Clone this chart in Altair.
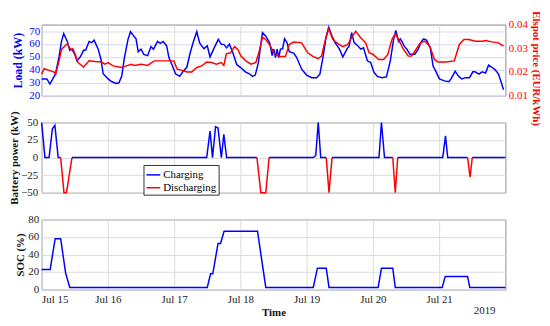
import altair as alt
import pandas as pd

# ---------------- data (hours after 2019-07-15 00:00) ----------------
load_h = [0, 1.9, 3, 5, 6.3, 7.2, 8, 9.3, 10.2, 11, 12, 12.8, 14, 15.2, 16, 17.2, 18.2, 19, 20.5, 21.5,
          22.3, 24.1, 25.3, 27, 28, 29, 30, 31.3, 32.2, 33.4, 34.2, 35, 36, 37, 38.4, 39.6, 40.5, 42, 43, 44,
          45.3, 46.1, 47.3, 48.5, 50, 51.2, 52.6, 53.8, 55, 56.2, 57.2, 58, 58.8, 60, 61, 62.5, 64, 65.1, 66, 67,
          68, 69.3, 70.7, 72, 73.8, 75.2, 76.4, 77.4, 78.5, 80, 81.2, 82.6, 83.5, 84.1, 84.7, 85.3, 85.9, 86.5, 87.3, 88,
          88.9, 89.7, 91.3, 92.4, 94.2, 96, 97.8, 99.6, 100.8, 102, 103.1, 104, 105.2, 106.3, 107.9, 109.1, 110.6, 111.4, 112.3, 113.2,
          114.6, 115.6, 116.6, 118, 119.2, 120.4, 121.6, 123.3, 124.9, 126.3, 127.5, 128.3, 129.3, 129.9, 130.5, 131.3, 132.3, 133.4, 135.2, 136.4,
          137.6, 138.4, 139.4, 140.8, 141.8, 142.9, 144.1, 145.9, 147.5, 148.3, 149.8, 151, 152.2, 153.6, 155, 156.2, 157, 158.4, 159.6, 160.8,
          161.9, 163.1, 164.3, 165.5, 166.7, 167.3]
load_kw = [33, 33, 29, 36.7, 50, 62, 68, 62, 55, 56, 52, 47, 50, 55, 55.5, 62, 61, 63, 56, 48,
           37, 33, 31, 29.5, 30, 35, 49.5, 63.6, 69.5, 66, 64, 54, 56, 52, 51, 58, 56, 62, 60.5, 62,
           58.5, 49.5, 43.6, 37, 35, 38.7, 42, 53, 62, 69.5, 61, 58.5, 56.4, 58.5, 50, 57, 63.6, 59.7, 59.7, 57,
           60, 53, 44, 42, 38.5, 37, 35, 36, 45.6, 68.7, 66, 61, 51, 56, 49.5, 56, 49.5, 56, 56.4, 64,
           61, 54, 53, 49.5, 40.5, 36, 34, 34, 36.7, 50.8, 66, 73, 66, 61, 56, 50, 56, 58.5, 68.7, 61,
           58.5, 56, 57, 47, 45.6, 38, 35, 34, 34.6, 47, 63.6, 70.5, 62, 64, 62, 58.5, 56, 52, 52, 56,
           62, 64, 63, 57, 43, 38.5, 33, 31.5, 30.8, 33, 39, 35, 33, 34, 34, 38.5, 38.5, 36.7, 38.5, 37.5,
           43.6, 42, 40, 36.7, 29, 24.6]

price_h = [0, 0.95, 2.7, 4.5, 5.1, 6.3, 7.2, 8.7, 9.3, 10.5, 11.3, 12.2, 13.2, 15.2, 17.2, 19.4, 21.7, 22.9, 24.1, 25.9,
           28.9, 30.7, 32.4, 33.6, 36, 38.4, 40.8, 46.7, 47.9, 49.1, 50.9, 52.6, 54.4, 56.2, 58, 59.8, 61.6, 63.3, 65.1, 66,
           66.9, 68.4, 69.9, 71.1, 72.2, 74, 75.8, 77.6, 79, 80, 81.2, 82.9, 84.1, 85.9, 88.3, 89.7, 91.3, 94.2, 96.4, 98.4,
           100.2, 101.4, 102.8, 104, 105.5, 107.3, 109.1, 110.9, 112.6, 113.8, 115.6, 117.4, 118.6, 120.1, 122.1, 123.9, 125.4, 126.9, 128.1, 129.6,
           131.1, 132.8, 134, 135.6, 137.2, 138.8, 140.6, 142.3, 143.5, 146.5, 149.5, 151.3, 153, 154.8, 157.2, 159.6, 160.8, 163.1, 165.5, 167.3]
price_eur = [0.0191, 0.0214, 0.0207, 0.0200, 0.0191, 0.0247, 0.0295, 0.0313, 0.0319, 0.0295, 0.0298, 0.0274, 0.0240, 0.0221, 0.0247, 0.0244, 0.0242, 0.0233, 0.0240, 0.0226,
             0.0219, 0.0226, 0.0233, 0.0228, 0.0233, 0.0228, 0.0247, 0.0247, 0.0247, 0.0212, 0.0207, 0.0200, 0.0200, 0.0219, 0.0226, 0.0242, 0.0240, 0.0233, 0.0240, 0.0228,
             0.0277, 0.0281, 0.0307, 0.0295, 0.0267, 0.0247, 0.0233, 0.0240, 0.0295, 0.0347, 0.0337, 0.0309, 0.0281, 0.0265, 0.0265, 0.0316, 0.0326, 0.0323, 0.0281, 0.0265,
             0.0256, 0.0267, 0.0337, 0.0382, 0.0337, 0.0320, 0.0307, 0.0316, 0.0351, 0.0372, 0.0344, 0.0323, 0.0281, 0.0274, 0.0253, 0.0253, 0.0274, 0.0337, 0.0361, 0.0330,
             0.0295, 0.0267, 0.0267, 0.0295, 0.0323, 0.0330, 0.0309, 0.0253, 0.0242, 0.0242, 0.0247, 0.0316, 0.0337, 0.0337, 0.0330, 0.0330, 0.0333, 0.0327, 0.0323, 0.0309]

bp_h = [0, 1.2, 2.7, 3.9, 4.8, 6.0, 6.9, 8.1, 9.0, 11.0, 59.8, 61.0, 61.9, 63.0, 63.9, 65.1, 66.0, 67.0,
        78.0, 79.4, 81.2, 82.4, 98.4, 99.3, 100.2, 101.1, 103.1, 104.1, 105.2, 122.2, 123.1, 124.2, 127.2, 128.1, 129.0,
        145.3, 146.3, 147.1, 154.3, 155.2, 156.0, 168]
bp_kw = [50, 0, 0, 41, 46, 0, 0, -50, -50, 0, 0, 37.6, 0, 44, 42, 0, 33, 0,
         0, -50, -50, 0, 0, 3, 50, 0, 0, -50, 0, 0, 50, 0, 0, -50, 0,
         0, 31, 0, 0, -28, 0, 0]

soc_h = [0, 3.1, 4.9, 6.9, 8.7, 10.2, 60, 61.2, 62, 63.9, 64.8, 66.1, 78.2, 81.2, 98.4, 99.9, 103.1, 104.1,
         121.9, 123.1, 127.2, 128.1, 145.1, 146.2, 154.3, 155.1, 168]
soc_pct = [23, 23, 58, 58, 18.8, 2.5, 2.5, 18, 18, 52.6, 52.6, 66.5, 66.5, 2.5, 2.5, 24.4, 24.4, 2.5,
           2.5, 24.4, 24.4, 2.5, 2.5, 15, 15, 2.5, 2.5]

day_ticks = [15, 16, 17, 18, 19, 20, 21]
load_ticks = [20, 30, 40, 50, 60, 70]
price_ticks = [0.01, 0.02, 0.03, 0.04]
bp_ticks = [-50, -25, 0, 25, 50]
soc_ticks = [0, 20, 40, 60, 80]

# ---------------- helpers ----------------
base = pd.Timestamp("2019-07-15")


def ts(hours):
    return [(base + pd.Timedelta(hours=h)).strftime("%Y-%m-%dT%H:%M:%S") for h in hours]


load_df = pd.DataFrame({"t": ts(load_h), "v": load_kw})
price_df = pd.DataFrame({"t": ts(price_h), "v": price_eur})
soc_df = pd.DataFrame({"t": ts(soc_h), "v": soc_pct})

rows = []
run = 0
prev = None
idx = 0
for i in range(len(bp_h) - 1):
    kind = "Discharging" if min(bp_kw[i], bp_kw[i + 1]) < 0 else "Charging"
    if kind != prev:
        run += 1
        prev = kind
        rows.append({"t": bp_h[i], "v": bp_kw[i], "type": kind, "seg": run, "i": idx})
        idx += 1
    rows.append({"t": bp_h[i + 1], "v": bp_kw[i + 1], "type": kind, "seg": run, "i": idx})
    idx += 1
bp_df = pd.DataFrame(rows)
bp_df["t"] = ts(bp_df["t"].tolist())

BLUE = "#0000ff"
RED = "#ff0000"
FONT = "Liberation Serif"
W = 469
H1, H2, H3 = 72, 71, 71
GAP = 27

xdomain = [alt.DateTime(year=2019, month=7, date=15), alt.DateTime(year=2019, month=7, date=22)]
xvals = [alt.DateTime(year=2019, month=7, date=d) for d in day_ticks]
xscale = alt.Scale(domain=xdomain)


def x_hidden():
    return alt.X("t:T", scale=xscale,
                 axis=alt.Axis(values=xvals, labels=False, ticks=False, domain=False, title=None,
                               grid=True, gridColor="#dcdcdc"))


# ---------------- panel 1 ----------------
load_line = alt.Chart(load_df).mark_line(color=BLUE, strokeWidth=1.5).encode(
    x=x_hidden(),
    y=alt.Y("v:Q", scale=alt.Scale(domain=[20, 75], nice=False, zero=False),
            axis=alt.Axis(values=load_ticks, title="Load (kW)", titleColor=BLUE, labelColor=BLUE,
                          gridColor="#d6d6f5", ticks=False, domain=False, labelPadding=2,
                          titlePadding=4, titleFontSize=12)),
)
price_line = alt.Chart(price_df).mark_line(color=RED, strokeWidth=1.5).encode(
    x=alt.X("t:T", scale=xscale),
    y=alt.Y("v:Q", scale=alt.Scale(domain=[0.01, 0.04], nice=False, zero=False),
            axis=alt.Axis(orient="right", values=price_ticks, format=".2f", title="Elspot price (EUR/kWh)",
                          titleColor=RED, labelColor=RED, grid=False, ticks=False, domain=False,
                          labelPadding=3, titlePadding=3, titleY=44)),
)
p1 = alt.layer(load_line, price_line).resolve_scale(y="independent").properties(width=W, height=H1)

# ---------------- panel 2 ----------------
p2 = alt.Chart(bp_df).mark_line(strokeWidth=1.5).encode(
    x=x_hidden(),
    y=alt.Y("v:Q", scale=alt.Scale(domain=[-50, 50], nice=False),
            axis=alt.Axis(values=bp_ticks, title="Battery power (kW)", ticks=False, domain=False,
                          labelPadding=4, titlePadding=1, gridColor="#dcdcdc")),
    color=alt.Color("type:N", scale=alt.Scale(domain=["Charging", "Discharging"], range=[BLUE, RED]),
                    legend=alt.Legend(orient="none", legendX=103, legendY=H1 + GAP + 43, title=None,
                                      symbolType="stroke", symbolStrokeWidth=1.5, symbolSize=196,
                                      fillColor="white", strokeColor="#333333", padding=2,
                                      labelFont=FONT, labelFontSize=11, labelOffset=2, rowPadding=0)),
    detail="seg:N",
    order="i:Q",
).properties(width=W, height=H2)

# ---------------- panel 3 ----------------
soc_line = alt.Chart(soc_df).mark_line(color=BLUE, strokeWidth=1.5).encode(
    x=alt.X("t:T", scale=xscale,
            axis=alt.Axis(values=xvals, format="%b %d", title="Time", ticks=False, domain=False,
                          grid=True, gridColor="#dcdcdc", labelPadding=4, titlePadding=2)),
    y=alt.Y("v:Q", scale=alt.Scale(domain=[0, 80], nice=False),
            axis=alt.Axis(values=soc_ticks, title="SOC (%)", ticks=False, domain=False,
                          labelPadding=3, titlePadding=2, gridColor="#dcdcdc")),
)
year_text = alt.Chart(pd.DataFrame({"s": ["2019"]})).mark_text(
    font=FONT, fontSize=11, color="#222222", align="center", baseline="middle"
).encode(x=alt.value(448), y=alt.value(93), text="s:N")
p3 = alt.layer(soc_line, year_text).properties(width=W, height=H3)

chart = alt.vconcat(p1, p2, p3, spacing=GAP, bounds="flush").properties(
    padding={"left": 0, "top": 0, "right": 0, "bottom": 0},
    background="white",
).configure_view(
    stroke="#8c8c8c", strokeWidth=1
).configure_axis(
    labelFont=FONT, labelFontSize=11, labelColor="#222222",
    titleFont=FONT, titleFontSize=11, titleFontWeight="bold", titleColor="#111111",
)

chart.save("out.html", embed_options={"renderer": "svg", "actions": False})
